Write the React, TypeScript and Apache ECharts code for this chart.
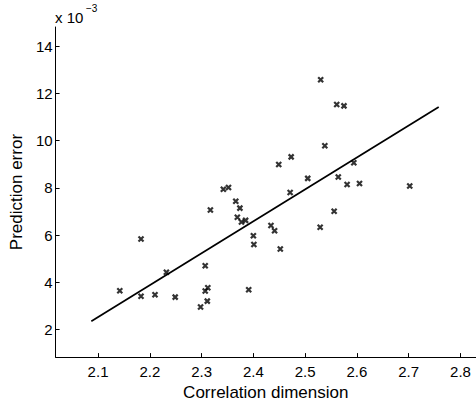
import React, { useEffect, useRef } from "react";
import * as echarts from "echarts";

// Correlation dimension of each sample (x) and its prediction error in units of 1e-3 (y)
const corrDim = [
  2.142, 2.183, 2.183, 2.21, 2.232, 2.249, 2.298, 2.307, 2.312, 2.311,
  2.307, 2.317, 2.342, 2.352, 2.366, 2.374, 2.369, 2.377, 2.385, 2.391,
  2.4, 2.401, 2.434, 2.441, 2.449, 2.452, 2.473, 2.471, 2.505, 2.53,
  2.529, 2.538, 2.556, 2.561, 2.575, 2.564, 2.581, 2.594, 2.605, 2.702,
];
const predErrE3 = [
  3.64, 5.83, 3.41, 3.47, 4.42, 3.37, 2.95, 3.63, 3.77, 3.2,
  4.7, 7.06, 7.94, 8.01, 7.43, 7.14, 6.75, 6.55, 6.62, 3.68,
  5.97, 5.6, 6.4, 6.18, 8.99, 5.41, 9.31, 7.8, 8.4, 12.58,
  6.33, 9.78, 7.01, 11.53, 11.47, 8.46, 8.14, 9.06, 8.18, 8.08,
];

// Least-squares fit line endpoints
const fitX = [2.087, 2.758];
const fitY = [2.35, 11.42];

const xTicks = [2.1, 2.2, 2.3, 2.4, 2.5, 2.6, 2.7, 2.8];
const yTicks = [2, 4, 6, 8, 10, 12, 14];

const FONT = "'Liberation Sans', Arial, Helvetica, sans-serif";

export default function App() {
  const ref = useRef<HTMLDivElement>(null);

  useEffect(() => {
    if (!ref.current) return;
    const chart = echarts.init(ref.current, null, { renderer: "svg" });

    const points = corrDim.map((x, i) => [x, predErrE3[i]]);
    const fitLine = fitX.map((x, i) => [x, fitY[i]]);

    chart.setOption({
      animation: false,
      backgroundColor: "#ffffff",
      textStyle: { fontFamily: FONT },
      grid: { left: 55, top: 27, bottom: 44, right: -3, containLabel: false },
      xAxis: {
        type: "value",
        min: 2.018,
        max: 2.83,
        name: "Correlation dimension",
        nameLocation: "middle",
        nameGap: 20,
        nameTextStyle: { fontSize: 17, color: "#000", fontFamily: FONT },
        splitLine: { show: false },
        axisLine: { show: true, lineStyle: { color: "#000", width: 1 } },
        axisTick: {
          show: true,
          inside: true,
          length: 4,
          customValues: xTicks,
          lineStyle: { color: "#000" },
        },
        axisLabel: {
          customValues: xTicks,
          formatter: (v: number) => v.toFixed(1),
          color: "#000",
          fontSize: 15,
          margin: 7,
          fontFamily: FONT,
        },
      },
      yAxis: {
        type: "value",
        min: 0.83,
        max: 14.81,
        name: "Prediction error",
        nameLocation: "middle",
        nameGap: 28,
        nameTextStyle: { fontSize: 17, color: "#000", fontFamily: FONT },
        splitLine: { show: false },
        axisLine: { show: true, lineStyle: { color: "#000", width: 1 } },
        axisTick: {
          show: true,
          inside: true,
          length: 4,
          customValues: yTicks,
          lineStyle: { color: "#000" },
        },
        axisLabel: {
          customValues: yTicks,
          formatter: (v: number) => String(Math.round(v)),
          color: "#000",
          fontSize: 15,
          margin: 3,
          fontFamily: FONT,
        },
      },
      graphic: [
        {
          type: "text",
          left: 55,
          top: 10,
          style: { text: "x 10", fontSize: 15, fill: "#000", fontFamily: FONT },
        },
        {
          type: "text",
          left: 86,
          top: 3,
          style: { text: "\u22123", fontSize: 10, fill: "#000", fontFamily: FONT },
        },
      ],
      series: [
        {
          type: "line",
          data: fitLine,
          showSymbol: false,
          lineStyle: { color: "#000", width: 1.7 },
          z: 2,
        },
        {
          type: "scatter",
          data: points,
          symbol: "path://M0,0L10,10M10,0L0,10",
          symbolSize: 5,
          itemStyle: { color: "none", borderColor: "#000", borderWidth: 2.2 },
          z: 3,
        },
      ],
    });

    return () => chart.dispose();
  }, []);

  return (
    <div
      ref={ref}
      style={{ position: "fixed", left: 0, top: 0, width: 476, height: 406 }}
    />
  );
}
